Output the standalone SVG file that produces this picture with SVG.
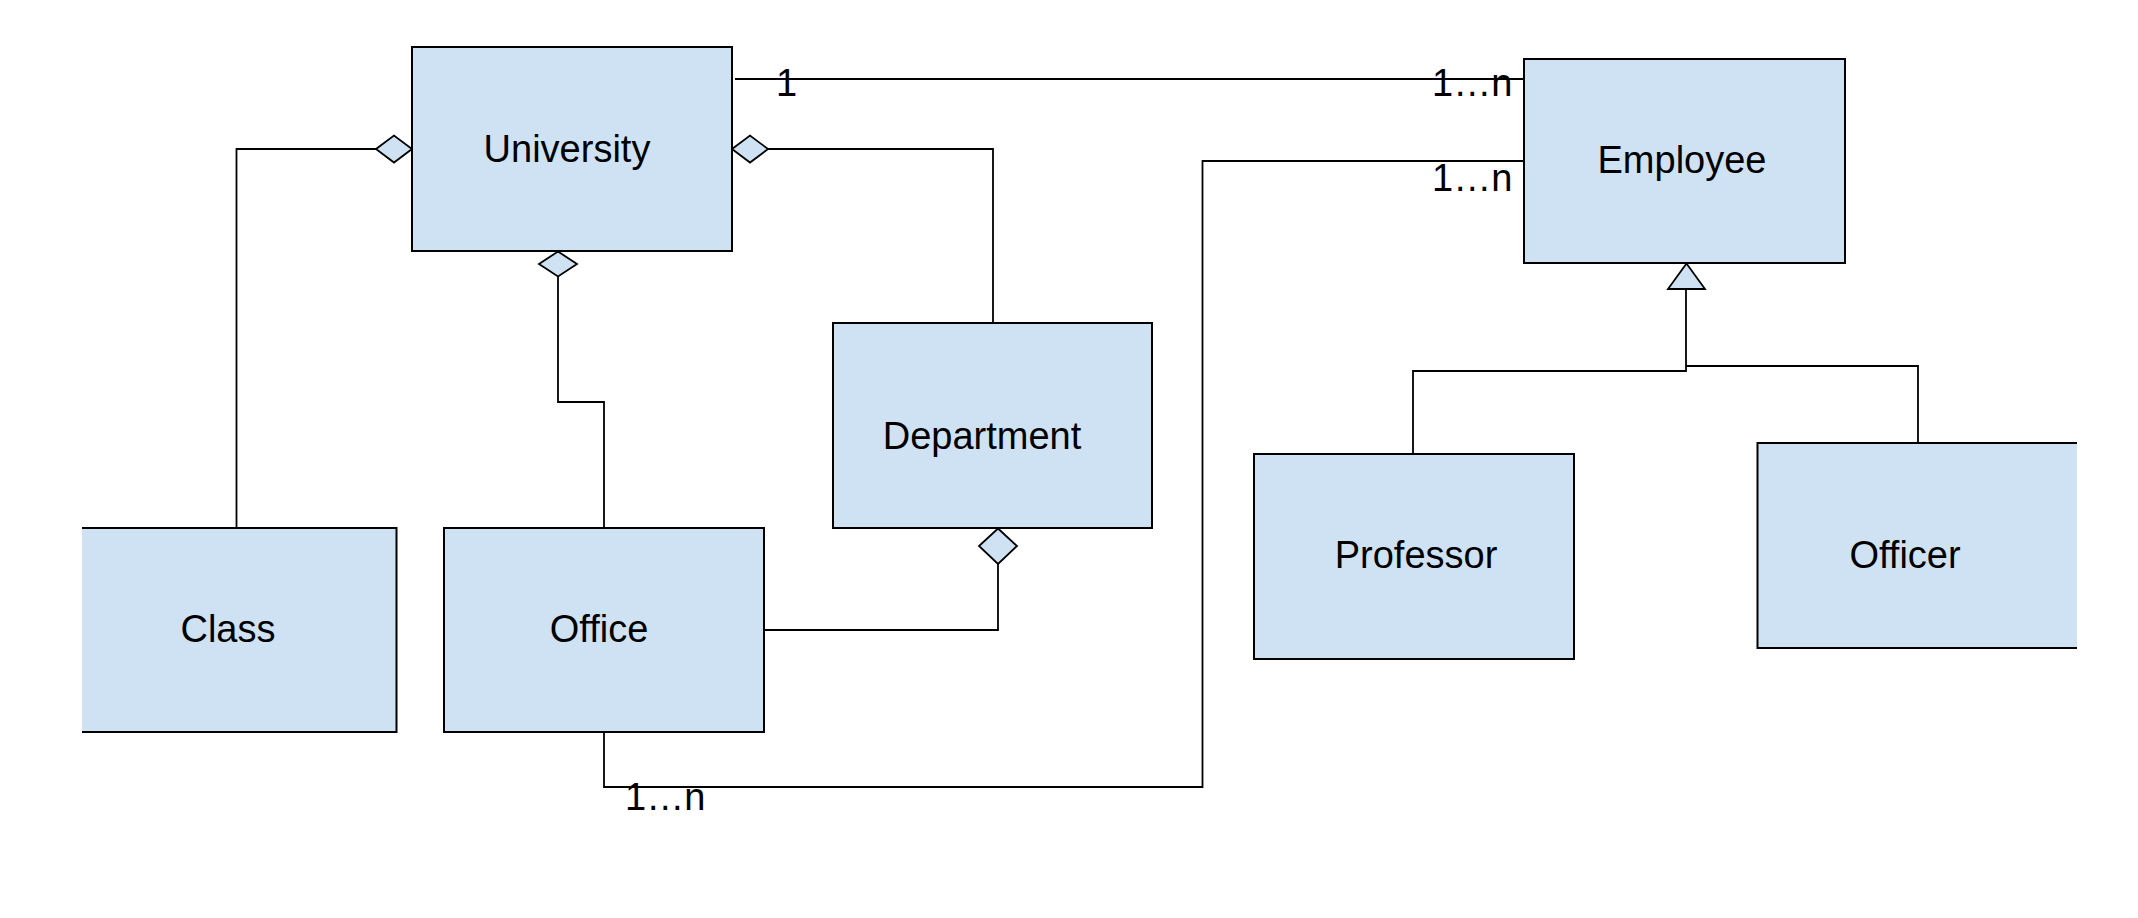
<svg xmlns="http://www.w3.org/2000/svg" width="2138" height="918" viewBox="0 0 2138 918">
<style>
.box{fill:#cfe2f3;stroke:#000;stroke-width:2}
.fill{fill:#cfe2f3;stroke:none}
.edge{fill:none;stroke:#000;stroke-width:2}
.ln{fill:none;stroke:#000;stroke-width:1.8}
.head{fill:#cfe2f3;stroke:#000;stroke-width:1.8}
.t{font-family:"Liberation Sans",Arial,sans-serif;font-size:38px;fill:#000;text-anchor:middle}
.lbl{font-family:"Liberation Sans",Arial,sans-serif;font-size:38px;fill:#000}
</style>
<rect width="2138" height="918" fill="#fff"/>
<g id="connectors">
<path class="ln" d="M376,149 H236.5 V528"/>
<path class="ln" d="M768,149 H993 V323"/>
<path class="ln" d="M558,276 V402 H604 V528"/>
<path class="ln" d="M764,630 H998 V564"/>
<path class="ln" d="M735,79 H1524"/>
<path class="ln" d="M604,732 V787 H1202.5 V161 H1524"/>
<path class="ln" d="M1686,289 V371 H1413 V454"/>
<path class="ln" d="M1686,366 H1918 V443"/>
<polygon class="head" points="376,149 394,135.5 412,149 394,162.5"/>
<polygon class="head" points="732,149 750,135.5 768,149 750,162.5"/>
<polygon class="head" points="558,251.5 577,264 558,276.5 539,264"/>
<polygon class="head" points="998,528.5 1017,546 998,564 979,546"/>
<polygon class="head" points="1686.5,263.5 1705,289 1668,289"/>
<text class="lbl" x="776" y="96">1</text>
<text class="lbl" x="1432" y="96">1…n</text>
<text class="lbl" x="1432" y="191">1…n</text>
<text class="lbl" x="625" y="810">1…n</text>
</g>
<g id="University">
<rect class="box" x="412" y="47" width="320" height="204"/>
<text class="t" x="567" y="162">University</text>
</g>
<g id="Employee">
<rect class="box" x="1524" y="59" width="321" height="204"/>
<text class="t" x="1682" y="173">Employee</text>
</g>
<g id="Department">
<rect class="box" x="833" y="323" width="319" height="205"/>
<text class="t" x="982" y="449">Department</text>
</g>
<g id="Class">
<rect class="fill" x="82" y="528" width="314.5" height="204"/>
<path class="edge" d="M82,528 H396.5 V732 H82"/>
<text class="t" x="228" y="642">Class</text>
</g>
<g id="Office">
<rect class="box" x="444" y="528" width="320" height="204"/>
<text class="t" x="599" y="642">Office</text>
</g>
<g id="Professor">
<rect class="box" x="1254" y="454" width="320" height="205"/>
<text class="t" x="1416" y="568">Professor</text>
</g>
<g id="Officer">
<rect class="fill" x="1757.5" y="443" width="319.5" height="205"/>
<path class="edge" d="M2077,443 H1757.5 V648 H2077"/>
<text class="t" x="1905" y="568">Officer</text>
</g>
</svg>
